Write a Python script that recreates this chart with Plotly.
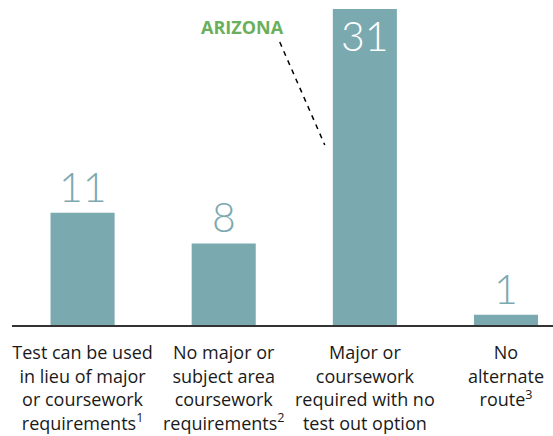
import plotly.graph_objects as go

categories = [
    "Test can be used<br>in lieu of major<br>or coursework<br>requirements<sup>1</sup>",
    "No major or<br>subject area<br>coursework<br>requirements<sup>2</sup>",
    "Major or<br>coursework<br>required with no<br>test out option",
    "No<br>alternate<br>route<sup>3</sup>",
]
values = [11, 8, 31, 1]
label_inside = [False, False, True, False]

bar_color = "#7BA9B0"
xs = list(range(len(values)))

fig = go.Figure()
fig.add_trace(go.Bar(
    x=xs, y=values,
    marker=dict(color=bar_color, line=dict(width=0)),
    width=0.454,
    hoverinfo="skip",
))

# value labels: above the bar, or inside at the top for the tall one
for x, v, inside in zip(xs, values, label_inside):
    fig.add_annotation(
        x=x, y=v, text=str(v), showarrow=False,
        yanchor="top" if inside else "bottom",
        font=dict(family="Lato", size=41, weight=300,
                  color="white" if inside else bar_color),
    )

# label pointing at the tall bar
fig.add_annotation(x=1.135, y=29.28, text="<b>ARIZONA</b>", showarrow=False,
                   yanchor="middle",
                   font=dict(family="Open Sans", size=18, color="#6AAF5C"))
fig.add_shape(type="line", x0=1.397, y0=27.76, x1=1.716, y1=17.66,
              line=dict(color="black", width=1.5, dash="5px,5px"))

fig.update_layout(
    width=553, height=436,
    margin=dict(l=12, r=0, t=9, b=111),
    plot_bgcolor="white", paper_bgcolor="white",
    showlegend=False,
    xaxis=dict(range=[-0.5, 3.333], tickvals=xs, ticktext=categories,
               showline=True, linecolor="#333333", linewidth=1.5, showgrid=False,
               zeroline=False, ticks="", tickangle=0, automargin=False,
               ticklabelstandoff=11,
               tickfont=dict(family="Open Sans", size=18, color="#1a1a1a")),
    yaxis=dict(range=[0, 31], visible=False, automargin=False),
)

# drop the default page margin so the figure sits at the window's corner
fig.write_html("out.html", config={"displayModeBar": False},
               post_script="document.body.style.margin='0';")
